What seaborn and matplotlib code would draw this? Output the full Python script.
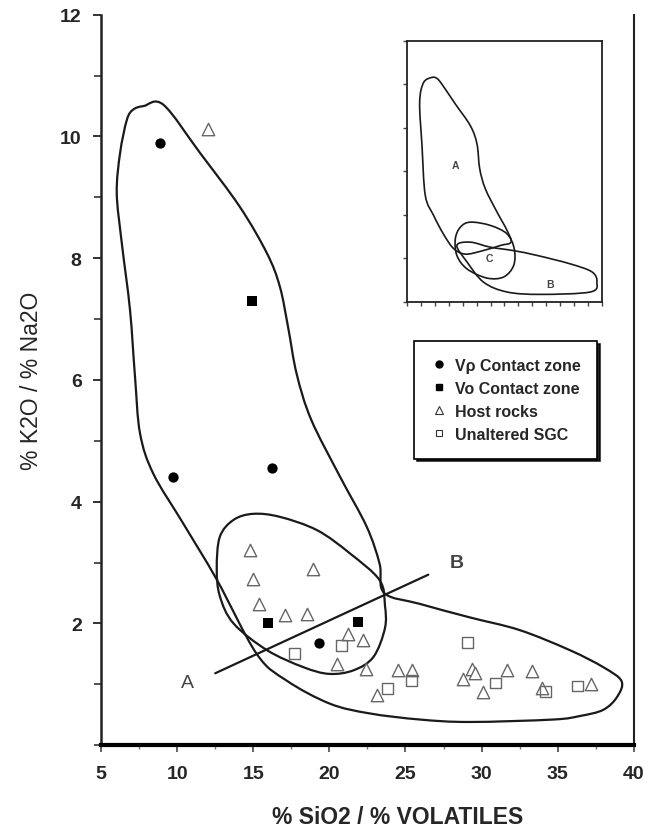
import numpy as np
import pandas as pd
import matplotlib
matplotlib.use("Agg")
import matplotlib.pyplot as plt
from matplotlib.path import Path
from matplotlib.patches import PathPatch
from matplotlib.lines import Line2D
from matplotlib.ticker import MultipleLocator
import seaborn as sns

# --- sample values ---
vp_x = [8.9, 9.7, 16.2, 19.3]
vp_y = [9.9, 4.4, 4.55, 1.68]

vo_x = [14.9, 16.0, 21.9]
vo_y = [7.3, 2.0, 2.03]

host_x = [12.0, 14.8, 15.0, 15.4, 17.1, 18.5, 18.9, 21.2, 22.2, 20.5, 22.4,
          24.5, 25.4, 23.1, 28.8, 29.4, 29.6, 30.1, 31.7, 33.3, 34.0, 37.2]
host_y = [10.13, 3.2, 2.73, 2.32, 2.14, 2.16, 2.9, 1.83, 1.73, 1.33, 1.25,
          1.24, 1.24, 0.82, 1.08, 1.25, 1.18, 0.88, 1.24, 1.22, 0.93, 1.0]

sgc_x = [17.7, 20.8, 25.4, 23.8, 29.1, 30.9, 34.2, 36.3]
sgc_y = [1.51, 1.64, 1.06, 0.93, 1.68, 1.02, 0.88, 0.97]

# --- hand-drawn field outlines (control points) ---
field_ab_x = [7.1, 7.8, 9.1, 11.5, 14.1, 15.9, 16.75, 17.3, 17.85, 18.8, 20.7,
              22.45, 23.3, 23.6, 25.95, 29.2, 32.5, 35.8, 38.0, 39.2, 38.9,
              38.0, 36.5, 34.7, 29.2, 25.95, 22.66, 20.04, 17.19, 15.22,
              12.6, 10.4, 8.43, 7.56, 7.23, 6.9, 6.36, 6.03, 6.25, 6.69]
field_ab_y = [10.44, 10.5, 10.52, 9.73, 8.85, 8.08, 7.53, 6.85, 6.1, 5.35, 4.41,
              3.59, 2.98, 2.5, 2.32, 2.1, 1.89, 1.56, 1.28, 1.05, 0.79,
              0.58, 0.48, 0.42, 0.38, 0.42, 0.52, 0.68, 1.06, 1.5,
              2.72, 3.64, 4.46, 5.12, 6.05, 7.15, 8.25, 9.07, 9.73, 10.27]

field_c_x = [12.6, 12.8, 13.7, 15.0, 16.75, 19.2, 21.35, 23.3, 23.65, 23.65,
             22.9, 21.6, 20.0, 18.3, 15.9, 13.7, 12.8]
field_c_y = [2.9, 3.42, 3.7, 3.8, 3.75, 3.53, 3.15, 2.71, 2.3, 1.92,
             1.45, 1.23, 1.17, 1.28, 1.56, 2.0, 2.45]

ab_line_x = [12.5, 26.5]
ab_line_y = [1.18, 2.8]

# inset (same scales, miniature)
inset_a_x = [9.48, 7.98, 7.28, 7.70, 8.29, 9.80, 11.6, 13.4, 15.5, 18.5, 21.8,
             23.66, 22.96, 21.17, 19.07, 18.06, 17.57, 16.38, 13.68, 11.27, 10.39]
inset_a_y = [10.32, 10.08, 9.17, 7.19, 4.90, 3.97, 3.1, 2.45, 2.2, 2.35, 2.6,
             2.75, 3.29, 4.13, 5.20, 6.12, 7.26, 8.10, 9.10, 10.01, 10.27]
inset_b_x = [13.96, 15.78, 18.76, 22.96, 28.94, 37.9, 39.09, 38.22, 34.33,
             28.35, 24.15, 19.95, 16.38]
inset_b_y = [2.60, 1.84, 0.91, 0.46, 0.35, 0.46, 0.91, 1.38, 1.75,
             2.14, 2.36, 2.52, 2.75]
inset_c_x = [16.38, 19.95, 22.96, 24.25, 24.15, 22.36, 19.35, 15.78, 13.96,
             13.68, 14.59]
inset_c_y = [3.67, 3.52, 3.13, 2.45, 1.68, 1.15, 1.10, 1.52, 2.14, 2.90, 3.44]

legend_labels = ["V\u03c1 Contact zone", "Vo Contact zone", "Host rocks", "Unaltered SGC"]


def smooth_closed(xs, ys):
    """Closed Catmull-Rom curve through the control points, as Bezier path."""
    p = np.column_stack([xs, ys])
    n = len(p)
    verts = [p[0]]
    codes = [Path.MOVETO]
    for i in range(n):
        p0, p1, p2, p3 = p[i - 1], p[i], p[(i + 1) % n], p[(i + 2) % n]
        verts += [p1 + (p2 - p0) / 6, p2 - (p3 - p1) / 6, p2]
        codes += [Path.CURVE4] * 3
    return Path(verts, codes)


sns.set_theme(style="white")
plt.rcParams["font.family"] = ["Liberation Sans", "DejaVu Sans"]

fig = plt.figure(figsize=(6.48, 8.29), dpi=100)
ax = fig.add_axes([0.156, 0.100, 0.822, 0.881])

ink = "#1a1a1a"
grey = "#666666"

for xs, ys in [(field_ab_x, field_ab_y), (field_c_x, field_c_y)]:
    ax.add_patch(PathPatch(smooth_closed(xs, ys), facecolor="none",
                           edgecolor=ink, lw=1.6, zorder=2))
ax.plot(ab_line_x, ab_line_y, color=ink, lw=1.6, zorder=2)

groups = pd.DataFrame({
    "x": vp_x + vo_x + host_x + sgc_x,
    "y": vp_y + vo_y + host_y + sgc_y,
    "group": (["vp"] * len(vp_x) + ["vo"] * len(vo_x)
              + ["host"] * len(host_x) + ["sgc"] * len(sgc_x)),
})

sns.scatterplot(data=groups[groups.group == "host"], x="x", y="y", ax=ax,
                marker="^", s=80, facecolor="white", edgecolor=grey,
                linewidth=1.0, zorder=3)
sns.scatterplot(data=groups[groups.group == "sgc"], x="x", y="y", ax=ax,
                marker="s", s=60, facecolor="none", edgecolor=grey,
                linewidth=1.0, zorder=3)
sns.scatterplot(data=groups[groups.group == "vp"], x="x", y="y", ax=ax,
                marker="o", s=55, color="black", linewidth=0, zorder=4)
sns.scatterplot(data=groups[groups.group == "vo"], x="x", y="y", ax=ax,
                marker="s", s=45, color="black", linewidth=0, zorder=4)

ax.text(10.7, 1.03, "A", fontsize=14, color="#444444", ha="center", va="center")
ax.text(28.4, 3.0, "B", fontsize=14, color="#444444", ha="center", va="center",
        fontweight="bold")

ax.set_xlim(5, 40)
ax.set_ylim(0, 12)
ax.xaxis.set_major_locator(MultipleLocator(5))
ax.xaxis.set_minor_locator(MultipleLocator(2.5))
ax.yaxis.set_major_locator(MultipleLocator(2))
ax.yaxis.set_minor_locator(MultipleLocator(1))
ax.set_yticks([2, 4, 6, 8, 10, 12])
ax.tick_params(axis="y", which="major", direction="out", length=6, width=1.4,
               color="#333333", labelsize=14, pad=8, left=True)
ax.tick_params(axis="y", which="minor", direction="out", length=5, width=1.2,
               color="#333333", left=True)
ax.tick_params(axis="x", which="major", direction="out", length=5, width=1.3,
               color="#555555", labelsize=14, pad=9, bottom=True)
ax.tick_params(axis="x", which="minor", direction="out", length=3, width=1.0,
               color="#777777", bottom=True)
for lab in ax.get_xticklabels() + ax.get_yticklabels():
    lab.set_fontweight("bold")

ax.spines["top"].set_visible(False)
ax.spines["bottom"].set_linewidth(3)
ax.spines["bottom"].set_color("black")
ax.spines["left"].set_linewidth(1.8)
ax.spines["left"].set_color("#222222")
ax.spines["right"].set_linewidth(1.5)
ax.spines["right"].set_color("#222222")

ax.set_xlabel("% SiO2 / % VOLATILES", fontsize=16.5, fontweight="bold")
ax.xaxis.set_label_coords(0.557, -0.082)
ax.set_ylabel("% K2O / % Na2O", fontsize=16.5, labelpad=12)

handles = [
    Line2D([], [], ls="none", marker="o", ms=5, color="black"),
    Line2D([], [], ls="none", marker="s", ms=4.5, color="black"),
    Line2D([], [], ls="none", marker="^", ms=5.5, mfc="white", mec="#333333", mew=0.8),
    Line2D([], [], ls="none", marker="s", ms=5, mfc="white", mec="#333333", mew=0.8),
]
leg = ax.legend(handles, legend_labels, loc="upper left",
                bbox_to_anchor=(414 / 648, 1 - 342 / 829),
                bbox_transform=fig.transFigure, frameon=True, fancybox=False,
                shadow={"color": "black", "alpha": 0.85}, framealpha=1,
                edgecolor="black", fontsize=11.5, labelspacing=0.5,
                handletextpad=0.5, handlelength=1.0, borderpad=1.05,
                borderaxespad=0)
leg.get_frame().set_linewidth(1.2)
for t in leg.get_texts():
    t.set_fontweight("bold")

# inset with the three fields
ins = fig.add_axes([0.628, 0.6345, 0.301, 0.315])
for xs, ys in [(inset_a_x, inset_a_y), (inset_b_x, inset_b_y), (inset_c_x, inset_c_y)]:
    ins.add_patch(PathPatch(smooth_closed(xs, ys), facecolor="none",
                            edgecolor=ink, lw=1.2))
ins.text(13.7, 6.3, "A", fontsize=7.5, color="#444444", ha="center", va="center",
         fontweight="bold")
ins.text(19.7, 2.0, "C", fontsize=7.5, color="#444444", ha="center", va="center",
         fontweight="bold")
ins.text(30.7, 0.85, "B", fontsize=7.5, color="#444444", ha="center", va="center",
         fontweight="bold")
ins.set_xlim(5, 40)
ins.set_ylim(0, 12)
ins.xaxis.set_major_locator(MultipleLocator(2.5))
ins.yaxis.set_major_locator(MultipleLocator(2))
ins.tick_params(direction="out", length=3, width=1.0, color="#444444",
                labelbottom=False, labelleft=False, bottom=True, left=True)
for sp in ins.spines.values():
    sp.set_linewidth(1.3)
    sp.set_color("#222222")

fig.savefig("out.png", dpi=100)
